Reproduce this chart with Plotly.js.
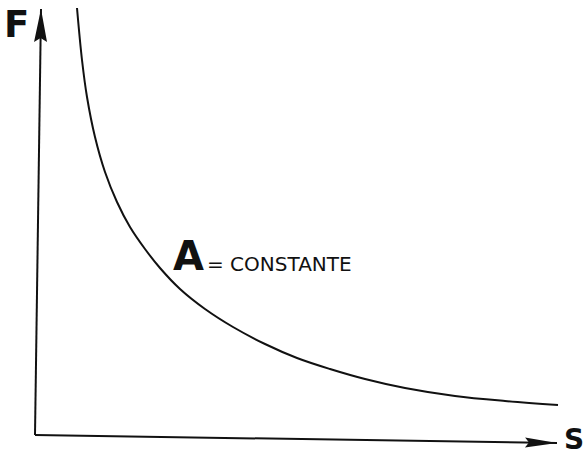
<!DOCTYPE html>
<html>
<head>
<meta charset="utf-8">
<script src="https://cdn.plot.ly/plotly-3.0.1.min.js"></script>
<style>html,body{margin:0;padding:0;background:#fff;}#chart{width:588px;height:458px;}</style>
</head>
<body>
<div id="chart"></div>
<script>
// Curve F = A / S  (origin at the axes corner)
var curveS = [42, 47, 52, 60, 70, 82, 95, 110, 125, 145, 170, 198, 230, 262, 295, 330, 370, 420, 470, 523];
var curveF = [427, 375, 338, 298, 263, 233, 208, 186, 167, 146, 126, 108, 91, 77, 66, 56, 47, 39, 34, 30];

// Axis end points (origin at 0,0)
var yAxisEnd = [6, 426];
var xAxisEnd = [522, -8];

// Labels
var yLabel = "F";
var xLabel = "S";
var curveLabelBig = "A";
var curveLabelSmall = "= CONSTANTE";

function arrowPath(tip, from, len, halfW) {
  var dx = tip[0] - from[0], dy = tip[1] - from[1];
  var d = Math.sqrt(dx * dx + dy * dy);
  var ux = dx / d, uy = dy / d;
  var bx = tip[0] - ux * len, by = tip[1] - uy * len;
  var px = -uy, py = ux;
  return "M" + tip[0] + "," + tip[1] +
    " L" + (bx + px * halfW) + "," + (by + py * halfW) +
    " L" + (bx + ux * 4) + "," + (by + uy * 4) +
    " L" + (bx - px * halfW) + "," + (by - py * halfW) + " Z";
}

var traces = [
  {x: curveS, y: curveF, mode: "lines", line: {color: "#111", width: 2, shape: "spline", smoothing: 1}, hoverinfo: "skip"},
  {x: [0, yAxisEnd[0]], y: [0, yAxisEnd[1]], mode: "lines", line: {color: "#111", width: 2}, hoverinfo: "skip"},
  {x: [0, xAxisEnd[0]], y: [0, xAxisEnd[1]], mode: "lines", line: {color: "#111", width: 2}, hoverinfo: "skip"}
];

var layout = {
  width: 588, height: 458,
  margin: {l: 0, r: 0, t: 0, b: 0},
  paper_bgcolor: "#fff", plot_bgcolor: "#fff",
  showlegend: false,
  xaxis: {range: [-35, 553], visible: false, fixedrange: true},
  yaxis: {range: [-23, 435], visible: false, fixedrange: true},
  shapes: [
    {type: "path", xref: "x", yref: "y", path: arrowPath(yAxisEnd, [0, 0], 33, 6.5), fillcolor: "#111", line: {width: 0}},
    {type: "path", xref: "x", yref: "y", path: arrowPath(xAxisEnd, [0, 0], 32, 5), fillcolor: "#111", line: {width: 0}}
  ],
  annotations: [
    {x: -19, y: 411, text: yLabel, showarrow: false, font: {family: "DejaVu Sans", size: 37, color: "#111", weight: "bold"}, xanchor: "center", yanchor: "middle"},
    {x: 550, y: -4, text: xLabel, showarrow: false, borderpad: 0, font: {family: "DejaVu Sans", size: 28, color: "#111", weight: "bold"}, xanchor: "right", yanchor: "middle"},
    {x: 153, y: 179, text: curveLabelBig, showarrow: false, font: {family: "DejaVu Sans", size: 40, color: "#111", weight: "bold"}, xanchor: "center", yanchor: "middle"},
    {x: 170, y: 171, text: curveLabelSmall, showarrow: false, font: {family: "DejaVu Sans", size: 20, color: "#111"}, xanchor: "left", yanchor: "middle"}
  ]
};

Plotly.newPlot("chart", traces, layout, {staticPlot: true, displayModeBar: false});
</script>
</body>
</html>
